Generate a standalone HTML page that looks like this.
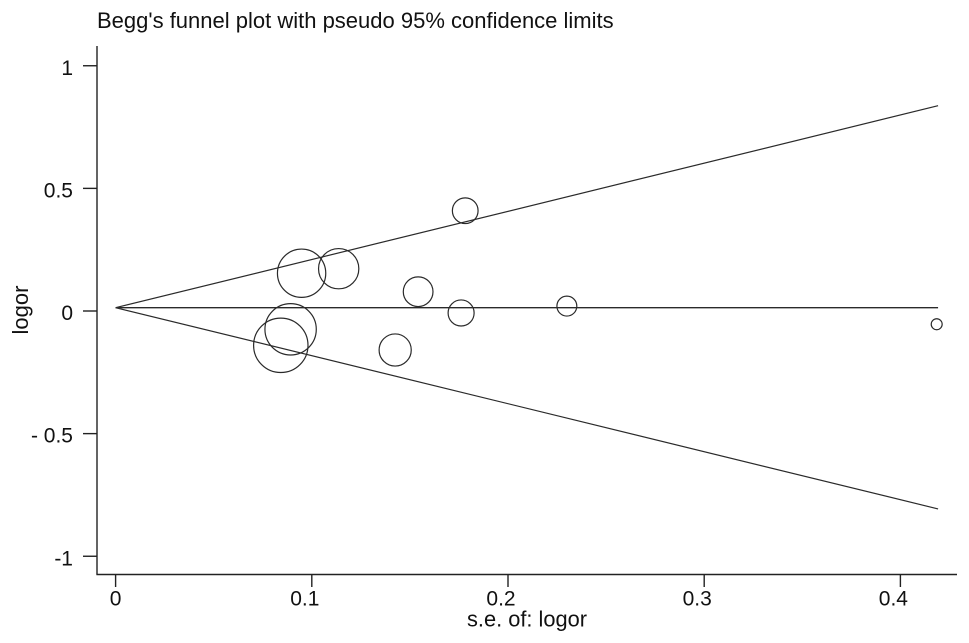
<!DOCTYPE html>
<html>
<head>
<meta charset="utf-8">
<title>Begg's funnel plot</title>
<style>
html,body{margin:0;padding:0;background:#fff;width:969px;height:643px;overflow:hidden}
svg{display:block}
text{font-family:"Liberation Sans",Arial,sans-serif;fill:#111}
</style>
</head>
<body>
<svg id="chart" width="969" height="643" viewBox="0 0 969 643" xmlns="http://www.w3.org/2000/svg">
<rect x="0" y="0" width="969" height="643" fill="#fff"/>
<text x="97" y="28" font-size="22">Begg's funnel plot with pseudo 95% confidence limits</text>
<text transform="translate(28,310) rotate(-90)" text-anchor="middle" font-size="22">logor</text>
<text x="527" y="626.5" text-anchor="middle" font-size="21.8">s.e. of: logor</text>
<g id="axes"></g>
<g id="funnel"></g>
<g id="points"></g>
</svg>
<script>
const xTicks = [0, 0.1, 0.2, 0.3, 0.4];
const xTickLabels = ["0", "0.1", "0.2", "0.3", "0.4"];
const yTicks = [1, 0.5, 0, -0.5, -1];
const yTickLabels = ["1", "0.5", "0", "- 0.5", "-1"];
const studySE = [0.1782, 0.0948, 0.1137, 0.1542, 0.1761, 0.0892, 0.0842, 0.1425, 0.2300, 0.4185];
const studyLogOR = [0.409, 0.154, 0.1725, 0.0787, -0.008, -0.0746, -0.14, -0.159, 0.02, -0.054];
const funnelSE = [0, 0.4192];
const funnelUpper = [0.0135, 0.837];
const funnelCentre = [0.0135, 0.0135];
const funnelLower = [0.0135, -0.807];

const NS = 'http://www.w3.org/2000/svg';
const xScale = v => 115.6 + v * 1962;
const yScale = v => 311 - v * 245.25;
const radius = se => 2.29 / se;

function make(parent, tag, attrs) {
  const el = document.createElementNS(NS, tag);
  for (const k in attrs) el.setAttribute(k, attrs[k]);
  parent.appendChild(el);
  return el;
}

const axes = document.getElementById('axes');
const axisStyle = {stroke: '#222', 'stroke-width': 1.4, fill: 'none'};

const yAxisLine = make(axes, 'line', {x1: 97, y1: 46, x2: 97, y2: 574.5, ...axisStyle});



const xAxisLine = make(axes, 'line', {x1: 96.4, y1: 574.5, x2: 957, y2: 574.5, ...axisStyle});



xTicks.forEach((t, i) => {
  const px = xScale(t);
  const tick = make(axes, 'line', {x1: px, y1: 574.5, x2: px, y2: 587, ...axisStyle});
  
  
  const labelX = t === 0 ? px : px - 7;
  const lab = make(axes, 'text', {x: labelX, y: 605.5, 'text-anchor': 'middle', 'font-size': 21});
  lab.textContent = xTickLabels[i];
  
  
});

yTicks.forEach((t, i) => {
  const py = yScale(t);
  const tick = make(axes, 'line', {x1: 83, y1: py, x2: 97, y2: py, ...axisStyle});
  
  
  const lab = make(axes, 'text', {x: 73, y: py + 9, 'text-anchor': 'end', 'font-size': 21});
  lab.textContent = yTickLabels[i];
  
  
});

const funnel = document.getElementById('funnel');
function drawLine(values, name, width) {
  const d = funnelSE.map((se, i) => xScale(se) + ',' + yScale(values[i])).join(' ');
  const line = make(funnel, 'polyline', {points: d, fill: 'none', stroke: '#2a2a2a', 'stroke-width': width});
  
  
}
drawLine(funnelUpper, 'upper-confidence-limit', 1.2);
drawLine(funnelCentre, 'pooled-estimate-line', 1.4);
drawLine(funnelLower, 'lower-confidence-limit', 1.2);

const points = document.getElementById('points');
studySE.forEach((se, i) => {
  const c = make(points, 'circle', {
    cx: xScale(se), cy: yScale(studyLogOR[i]), r: radius(se),
    fill: 'none', stroke: '#2a2a2a', 'stroke-width': 1.2
  });
  
  
});
</script>
</body>
</html>
